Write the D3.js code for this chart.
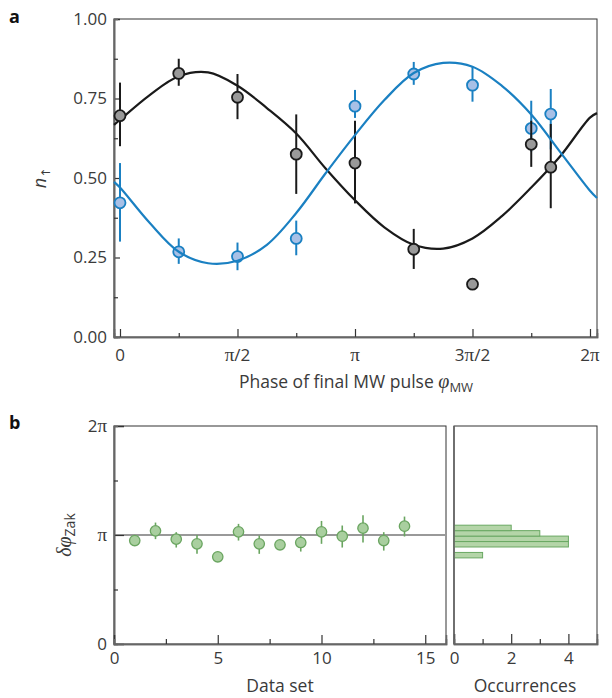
<!DOCTYPE html>
<html>
<head>
<meta charset="utf-8">
<script src="https://cdn.jsdelivr.net/npm/d3@7/dist/d3.min.js"></script>
<style>
  body { margin: 0; background: #fff; }
  text { font-family: "Open Sans", "Noto Sans", sans-serif; fill: #3a3a3a; }
</style>
</head>
<body>
<script>
// ---- panel a data (phase in units of pi) ----
var phaseA = [0, 0.25, 0.5, 0.75, 1, 1.25, 1.5, 1.75, 1.833];
var blackN = [0.696, 0.829, 0.754, 0.575, 0.547, 0.276, 0.166, 0.606, 0.534];
var blackLo = [0.60, 0.79, 0.685, 0.45, 0.42, 0.214, 0.166, 0.535, 0.405];
var blackHi = [0.80, 0.875, 0.827, 0.70, 0.68, 0.34, 0.166, 0.68, 0.67];
var blueN = [0.422, 0.268, 0.253, 0.310, 0.726, 0.827, 0.792, 0.656, 0.701];
var blueLo = [0.30, 0.23, 0.21, 0.257, 0.689, 0.793, 0.74, 0.583, 0.59];
var blueHi = [0.547, 0.31, 0.297, 0.366, 0.777, 0.865, 0.85, 0.743, 0.78];

// fitted curves
var fitPhase = [-0.0255, 0, 0.125, 0.25, 0.375, 0.5, 0.625, 0.75, 0.875, 1, 1.125, 1.25, 1.375, 1.5, 1.625, 1.75, 1.875, 2, 2.0298];
var blackFit = [0.667, 0.683, 0.76, 0.82, 0.832, 0.79, 0.72, 0.64, 0.53, 0.43, 0.345, 0.29, 0.278, 0.31, 0.38, 0.47, 0.57, 0.69, 0.704];
var blueFit = [0.488, 0.47, 0.36, 0.268, 0.232, 0.24, 0.29, 0.39, 0.515, 0.635, 0.745, 0.83, 0.862, 0.85, 0.79, 0.70, 0.58, 0.46, 0.437];

var yTicksA = [0, 0.25, 0.5, 0.75, 1];
var yMinorA = [0.125, 0.375, 0.625, 0.875];
var xTicksA = [0, 0.5, 1, 1.5, 2];
var xLabelsA = ["0", "π/2", "π", "3π/2", "2π"];
var xMinorA = [0.25, 0.75, 1.25, 1.75];

// ---- panel b data (phase in units of pi) ----
var dataSet = [1, 2, 3, 4, 5, 6, 7, 8, 9, 10, 11, 12, 13, 14];
var zak = [0.949, 1.038, 0.962, 0.919, 0.800, 1.029, 0.919, 0.910, 0.931, 1.029, 0.989, 1.063, 0.949, 1.081];
var zakLo = [0.949, 0.962, 0.885, 0.827, 0.800, 0.949, 0.827, 0.910, 0.848, 0.919, 0.885, 0.931, 0.857, 0.986];
var zakHi = [0.949, 1.114, 1.026, 1.001, 0.800, 1.102, 0.995, 0.910, 0.995, 1.129, 1.087, 1.182, 1.026, 1.169];
var xTicksB = [0, 5, 10, 15];
var xMinorB = [2.5, 7.5, 12.5];
var yTicksB = [0, 1, 2];
var yLabelsB = ["0", "π", "2π"];
var yMinorB = [0.5, 1.5];

// histogram
var binStart = [0.79, 0.84, 0.89, 0.94, 0.99, 1.04];
var binCount = [1, 0, 4, 4, 3, 2];
var binWidth = 0.05;
var xTicksH = [0, 2, 4];
var xMinorH = [1, 3];

var width = 612, height = 698;
var svg = d3.select("body").append("svg")
  .attr("width", width).attr("height", height);

var axisCol = "#666", darkCol = "#333";
var fs = "17px";

// write a label where pi gets a serif glyph
function piText(sel, str) {
  str.split(/(π)/).forEach(function(part) {
    if (part === "") return;
    var t = sel.append("tspan").text(part);
    if (part === "π") t.style("font-family", "'Liberation Serif', serif").style("font-size", "19px");
  });
}

// ============ panel a ============
var xA = d3.scaleLinear().domain([-0.0255, 2.0298]).range([114, 597]);
var yA = d3.scaleLinear().domain([0, 1]).range([337, 19]);

var gA = svg.append("g");

// frame
gA.append("rect").attr("x", 114).attr("y", 19).attr("width", 483).attr("height", 318)
  .attr("fill", "none").attr("stroke", darkCol).attr("stroke-width", 1);

// axes
gA.append("g").attr("transform", "translate(114,0)")
  .call(d3.axisLeft(yA).tickValues(yTicksA).tickSize(-6).tickPadding(7).tickFormat(d3.format(".2f")));
gA.append("g").attr("transform", "translate(114,0)")
  .call(d3.axisLeft(yA).tickValues(yMinorA).tickSize(-4).tickFormat(""));
gA.append("g").attr("transform", "translate(0,337)")
  .call(d3.axisBottom(xA).tickValues(xTicksA).tickSize(-8).tickPadding(9).tickFormat(""));
gA.append("g").attr("transform", "translate(0,337)")
  .call(d3.axisBottom(xA).tickValues(xMinorA).tickSize(-4).tickFormat(""));

xTicksA.forEach(function(d, i) {
  var t = gA.append("text").attr("x", xA(d)).attr("y", 361)
    .attr("text-anchor", "middle").style("font-size", fs);
  piText(t, xLabelsA[i]);
});

// curves
var line = d3.line().curve(d3.curveCatmullRom.alpha(0.5))
  .x(function(d) { return xA(d[0]); }).y(function(d) { return yA(d[1]); });
var blackPts = d3.zip(fitPhase, blackFit), bluePts = d3.zip(fitPhase, blueFit);

var blueCol = "#1a80c2";

// blue data
gA.selectAll(".bErr").data(phaseA).enter().append("line")
  .attr("x1", function(d) { return xA(d); }).attr("x2", function(d) { return xA(d); })
  .attr("y1", function(d, i) { return yA(blueLo[i]); }).attr("y2", function(d, i) { return yA(blueHi[i]); })
  .attr("stroke", blueCol).attr("stroke-width", 2);
gA.selectAll(".bPt").data(phaseA).enter().append("circle")
  .attr("cx", function(d) { return xA(d); }).attr("cy", function(d, i) { return yA(blueN[i]); })
  .attr("r", 5.5).attr("fill", "#a8c0e6").attr("stroke", blueCol).attr("stroke-width", 1.8);

gA.append("path").datum(blackPts).attr("d", line)
  .attr("fill", "none").attr("stroke", "#1a1a1a").attr("stroke-width", 2.2);

// black data
gA.selectAll(".kErr").data(phaseA).enter().append("line")
  .attr("x1", function(d) { return xA(d); }).attr("x2", function(d) { return xA(d); })
  .attr("y1", function(d, i) { return yA(blackLo[i]); }).attr("y2", function(d, i) { return yA(blackHi[i]); })
  .attr("stroke", "#1a1a1a").attr("stroke-width", 2);
gA.selectAll(".kPt").data(phaseA).enter().append("circle")
  .attr("cx", function(d) { return xA(d); }).attr("cy", function(d, i) { return yA(blackN[i]); })
  .attr("r", 5.5).attr("fill", "#999").attr("stroke", "#1a1a1a").attr("stroke-width", 1.8);

gA.append("path").datum(bluePts).attr("d", line)
  .attr("fill", "none").attr("stroke", blueCol).attr("stroke-width", 2.2);

// labels
svg.append("text").attr("x", 9).attr("y", 23).text("a")
  .style("font-size", "18px").style("font-weight", "bold").style("fill", "#111");
var nl = svg.append("text").attr("transform", "translate(46,178) rotate(-90)")
  .attr("text-anchor", "middle").style("font-size", "18px");
nl.append("tspan").text("n").style("font-style", "italic");
nl.append("tspan").text("↑").style("font-family", "'DejaVu Sans', sans-serif")
  .style("font-size", "12px").attr("dy", 4);

var xt = svg.append("text").attr("x", 356).attr("y", 388).attr("text-anchor", "middle").style("font-size", "17.5px");
xt.append("tspan").text("Phase of final MW pulse ");
xt.append("tspan").text("φ").style("font-family", "'Liberation Serif', serif").style("font-style", "italic").style("font-size", "20px");
xt.append("tspan").text("MW").style("font-size", "13px").attr("dy", 4);

// ============ panel b ============
var xB = d3.scaleLinear().domain([0, 16]).range([114, 446]);
var yB = d3.scaleLinear().domain([0, 2]).range([644, 426]);
var xH = d3.scaleLinear().domain([0, 5]).range([454, 597]);

var gB = svg.append("g");

gB.append("rect").attr("x", 114).attr("y", 426).attr("width", 332).attr("height", 218)
  .attr("fill", "none").attr("stroke", darkCol).attr("stroke-width", 1);
gB.append("rect").attr("x", 454).attr("y", 426).attr("width", 143).attr("height", 218)
  .attr("fill", "none").attr("stroke", darkCol).attr("stroke-width", 1);

// reference line at pi
gB.append("line").attr("x1", 114).attr("x2", 446).attr("y1", yB(1)).attr("y2", yB(1))
  .attr("stroke", "#999").attr("stroke-width", 2);

gB.append("g").attr("transform", "translate(114,0)")
  .call(d3.axisLeft(yB).tickValues(yTicksB).tickSize(-10).tickPadding(8).tickFormat(""));
gB.append("g").attr("transform", "translate(114,0)")
  .call(d3.axisLeft(yB).tickValues(yMinorB).tickSize(-4).tickFormat(""));
yTicksB.forEach(function(d, i) {
  var t = gB.append("text").attr("x", 107).attr("y", yB(d) + 6)
    .attr("text-anchor", "end").style("font-size", fs);
  piText(t, yLabelsB[i]);
});

gB.append("g").attr("transform", "translate(0,644)")
  .call(d3.axisBottom(xB).tickValues(xTicksB).tickSize(-9).tickPadding(8).tickFormat(d3.format("d")));
gB.append("g").attr("transform", "translate(0,644)")
  .call(d3.axisBottom(xB).tickValues(xMinorB).tickSize(-5).tickFormat(""));

gB.append("g").attr("transform", "translate(0,644)")
  .call(d3.axisBottom(xH).tickValues(xTicksH).tickSize(-10).tickPadding(8).tickFormat(d3.format("d")));
gB.append("g").attr("transform", "translate(0,644)")
  .call(d3.axisBottom(xH).tickValues(xMinorH).tickSize(-5).tickFormat(""));

// hist bars
gB.selectAll(".bar").data(binStart).enter().append("rect")
  .attr("x", xH(0))
  .attr("y", function(d) { return yB(d + binWidth); })
  .attr("width", function(d, i) { return xH(binCount[i]) - xH(0); })
  .attr("height", function(d) { return yB(d) - yB(d + binWidth); })
  .attr("fill", "#b4d5a8").attr("stroke", "#6aa863").attr("stroke-width", 1)
  .style("display", function(d, i) { return binCount[i] ? null : "none"; });

// hist left axis on top
gB.append("line").attr("x1", 454).attr("x2", 454).attr("y1", 426).attr("y2", 644)
  .attr("stroke", axisCol).attr("stroke-width", 1.6);

var green = "#6aa560";
gB.selectAll(".zErr").data(dataSet).enter().append("line")
  .attr("x1", function(d) { return xB(d); }).attr("x2", function(d) { return xB(d); })
  .attr("y1", function(d, i) { return yB(zakLo[i]); }).attr("y2", function(d, i) { return yB(zakHi[i]); })
  .attr("stroke", green).attr("stroke-width", 1.6);
gB.selectAll(".zPt").data(dataSet).enter().append("circle")
  .attr("cx", function(d) { return xB(d); }).attr("cy", function(d, i) { return yB(zak[i]); })
  .attr("r", 5.2).attr("fill", "#a9cf9f").attr("stroke", green).attr("stroke-width", 1.3);

svg.append("text").attr("x", 9).attr("y", 429).text("b")
  .style("font-size", "18px").style("font-weight", "bold").style("fill", "#111");
var zl = svg.append("text").attr("transform", "translate(71,535) rotate(-90)")
  .attr("text-anchor", "middle").style("font-size", "20px");
zl.append("tspan").text("δφ").style("font-family", "'Liberation Serif', serif").style("font-style", "italic");
zl.append("tspan").text("Zak").style("font-size", "14px").attr("dy", 4);

svg.append("text").attr("x", 280).attr("y", 692).attr("text-anchor", "middle")
  .style("font-size", "17.5px").text("Data set");
svg.append("text").attr("x", 525).attr("y", 692).attr("text-anchor", "middle")
  .style("font-size", "17.5px").text("Occurrences");

// style all axes
svg.selectAll(".domain").attr("stroke", axisCol).attr("stroke-width", 1.6);
svg.selectAll(".tick line").attr("stroke", darkCol).attr("stroke-width", 1.2);
svg.selectAll(".tick text").style("font-size", fs).style("fill", "#3a3a3a")
  .style("font-family", "'Open Sans', sans-serif");
</script>
</body>
</html>
